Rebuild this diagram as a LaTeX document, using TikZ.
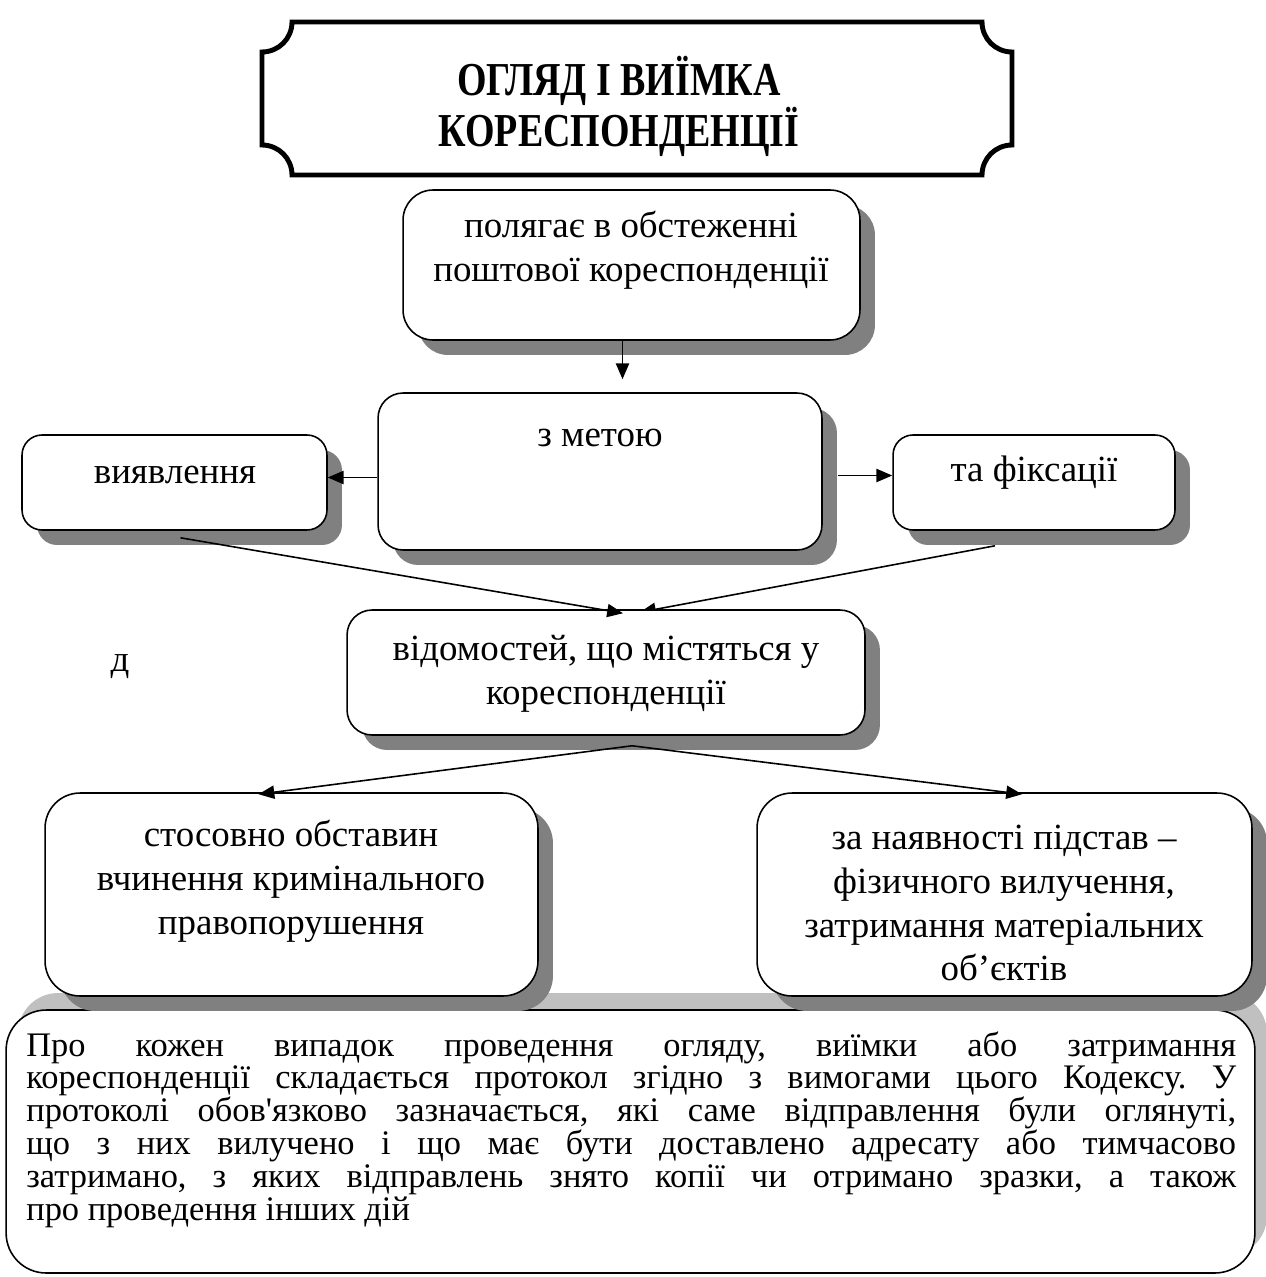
\documentclass[tikz,border=0pt]{standalone}
\usepackage{fontspec}
\setmainfont{Liberation Serif}
\usetikzlibrary{arrows.meta,calc,shadows,backgrounds}
\definecolor{ink}{HTML}{000000}
\definecolor{shade}{HTML}{808080}
\definecolor{shadeSoft}{HTML}{C0C0C0}
\newcommand\protofont{\fontsize{19.6}{18.7}\selectfont\lineskiplimit=-20pt\relax\frenchspacing}
\tikzset{
  card/.style={draw=ink,fill=white,line width=0.9pt,rounded corners=0.5cm,
    drop shadow={shadow xshift=0.3cm,shadow yshift=-0.3cm,fill=shade,opacity=1}},
  smallcard/.style={card,rounded corners=0.4cm},
  bigcard/.style={card,rounded corners=0.7cm},
  protobox/.style={draw=ink,fill=white,line width=0.9pt,rounded corners=0.8cm,
    drop shadow={shadow xshift=0.24cm,shadow yshift=0.34cm,fill=shadeSoft,opacity=1}},
  cardtext/.style={font=\fontsize{21}{25}\selectfont,align=center,inner sep=0pt},
  prototext/.style={font=\protofont,align=justify,text width=24.2cm,inner sep=0pt},
  titletext/.style={font=\fontsize{24}{29}\selectfont\bfseries,align=center,inner sep=0pt},
  titleframe/.style={draw=ink,fill=white,line width=2.8pt},
  arrow/.style={-{Triangle[length=9pt,width=7.5pt]},line width=0.9pt,draw=ink}
}
\begin{document}
\begin{tikzpicture}[x=0.02cm,y=-0.02cm]
  \useasboundingbox (0,0) rectangle (1266,1277);

  % protocol box first, its light shadow goes under the others
  \node[protobox,minimum width=24.98cm,minimum height=5.26cm] (protokol) at (630.5,1141.5) {};
  \node[prototext,anchor=north west] (protext) at (26,1031) {Про кожен випадок проведення огляду, виїмки або затримання\linebreak
    кореспонденції складається протокол згідно з вимогами цього Кодексу. У\linebreak
    протоколі обов\textquotesingle язково зазначається, які саме відправлення були оглянуті,\linebreak
    що з них вилучено і що має бути доставлено адресату або тимчасово\linebreak
    затримано, з яких відправлень знято копії чи отримано зразки, а також\linebreak
    про проведення інших дій};

  % heading plate
  \draw[titleframe] (262,52) .. controls (278.6,52) and (292,38.6) .. (292,22)
    -- (982,22) .. controls (982,38.6) and (995.4,52) .. (1012,52)
    -- (1012,145) .. controls (995.4,145) and (982,158.4) .. (982,175)
    -- (292,175) .. controls (292,158.4) and (278.6,145) .. (262,145) -- cycle;
  \node[titletext] (title) at (619,106) {\scalebox{0.9}[1.12]{ОГЛЯД І ВИЇМКА}\\\scalebox{0.9}[1.12]{КОРЕСПОНДЕНЦІЇ}};

  % boxes
  \node[card,rounded corners=0.6cm,minimum width=9.14cm,minimum height=3cm] (obstez) at (631.5,265) {};
  \node[card,minimum width=8.88cm,minimum height=3.14cm] (metoyu) at (600,471.5) {};
  \node[smallcard,minimum width=6.1cm,minimum height=1.9cm] (vyyavl) at (174.5,482.5) {};
  \node[smallcard,minimum width=5.64cm,minimum height=1.9cm] (fiks) at (1034,482.5) {};
  \node[card,minimum width=10.36cm,minimum height=2.5cm] (vidom) at (606,672.5) {};
  \node[bigcard,minimum width=9.86cm,minimum height=4.06cm] (obstav) at (291.5,894.5) {};
  \node[bigcard,minimum width=9.9cm,minimum height=4.06cm] (pidstav) at (1004.5,894.5) {};

  \node[cardtext] (obsttext) at (631,250) {полягає в обстеженні\\поштової кореспонденції};
  \node[cardtext] (mettext) at (600,438) {з метою};
  \node[cardtext] (vyyatext) at (175,475) {виявлення};
  \node[cardtext] (fikstext) at (1034,473) {та фіксації};
  \node[cardtext] (vidtext) at (606,674) {відомостей, що містяться у\\кореспонденції};
  \node[cardtext] (obstext) at (291,881) {стосовно обставин\\вчинення кримінального\\правопорушення};
  \node[cardtext] (pidtext) at (1004,903) {за наявності підстав –\\фізичного вилучення,\\затримання матеріальних\\об’єктів};
  \node[cardtext] (dd) at (120,667) {д};

  % connectors
  \draw[arrow] ($(obstez.south)+(-9,0)$) -- ($(obstez.south |- metoyu.north)+(-9,-13)$);
  \draw[arrow] ($(metoyu.west |- vyyavl.east)+(0,-5)$) -- ($(vyyavl.east)+(0,-5)$);
  \draw[arrow] ($(metoyu.east |- fiks.west)+(15,-7)$) -- ($(fiks.west)+(0,-7)$);
  \draw[arrow] ($(vyyavl.south)+(6,7)$) -- ($(vidom.north)+(17,4)$);
  \begin{scope}[on background layer]
    \draw[arrow] ($(fiks.south)+(-39,15)$) -- ($(vidom.north)+(34,3)$);
  \end{scope}
  \draw[arrow] ($(vidom.south)+(26,10)$) -- ($(obstav.north)+(-33,2)$);
  \draw[arrow] ($(vidom.south)+(26,10)$) -- ($(pidstav.north)+(17.5,2)$);
\end{tikzpicture}
\end{document}
